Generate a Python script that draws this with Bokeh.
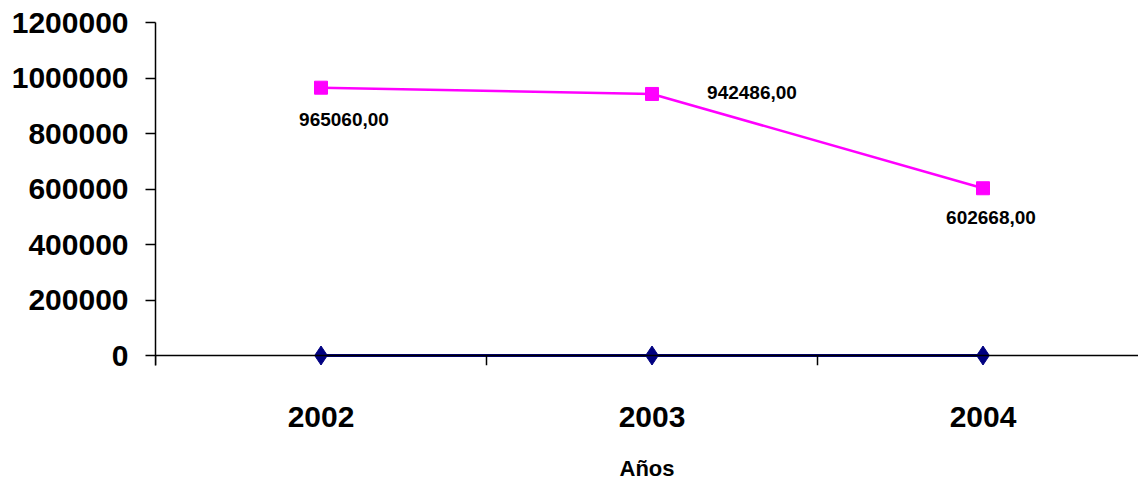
from bokeh.plotting import figure
from bokeh.models import (FixedTicker, PrintfTickFormatter, Range1d, ColumnDataSource,
                          LinearAxis)
from bokeh.core.properties import value
from bokeh.embed import file_html
from bokeh.resources import INLINE

years = [2002, 2003, 2004]
year_labels = ["2002", "2003", "2004"]
serie_a = [0, 0, 0]
serie_b = [965060.00, 942486.00, 602668.00]
serie_b_text = ["965060,00", "942486,00", "602668,00"]
y_ticks = [0, 200000, 400000, 600000, 800000, 1000000, 1200000]
x_title = "Años"

# label placement (screen-pixel offsets, style only)
lab_dx = [23, 100, 8]
lab_dy = [32, -1, 29]

FONT = "Liberation Sans"

# frame: 1200000 at 22px, 0 at 355px, frame bottom 10px below zero
y_pad = 1200000 * 10 / 333.0

p = figure(width=1138, height=487, output_backend="svg", toolbar_location=None,
           x_range=Range1d(2001.5, 2001.5 + 983 / 331.0),
           y_range=Range1d(-y_pad, 1200000),
           min_border_left=155, min_border_right=0, min_border_top=22,
           min_border_bottom=122, x_axis_type=None)
p.outline_line_color = None
p.xgrid.visible = False
p.ygrid.visible = False
p.background_fill_color = "white"
p.border_fill_color = "white"

# y axis
p.yaxis.ticker = FixedTicker(ticks=y_ticks)
p.yaxis.formatter = PrintfTickFormatter(format="%d")
p.yaxis.major_label_text_font = FONT
p.yaxis.major_label_text_font_style = "bold"
p.yaxis.major_label_text_font_size = "30px"
p.yaxis.major_label_text_color = "black"
p.yaxis.major_tick_out = 10
p.yaxis.major_tick_in = 0
p.yaxis.minor_tick_line_color = None
p.yaxis.axis_line_width = 1.5
p.yaxis.major_tick_line_width = 1.5
p.yaxis.major_label_standoff = 17

# x axis line + category boundary ticks, placed at y = 0
ax0 = LinearAxis(fixed_location=0,
                 ticker=FixedTicker(ticks=[], minor_ticks=[2001.5, 2002.5, 2003.5]),
                 major_tick_out=0, major_tick_in=0,
                 minor_tick_out=10, minor_tick_in=0, minor_tick_line_width=1.5,
                 axis_line_width=1.5, major_label_text_font_size="0px",
                 major_label_standoff=0)
p.add_layout(ax0, "below")

# x tick labels and title
ax1 = LinearAxis(ticker=FixedTicker(ticks=years),
                 major_label_overrides={y: l for y, l in zip(years, year_labels)},
                 axis_line_color=None, major_tick_line_color=None,
                 minor_tick_line_color=None, major_tick_out=0, major_tick_in=0,
                 minor_tick_out=0, minor_tick_in=0,
                 major_label_text_font=FONT, major_label_text_font_style="bold",
                 major_label_text_font_size="30px", major_label_text_color="black",
                 major_label_standoff=41,
                 axis_label=x_title, axis_label_text_font=FONT,
                 axis_label_text_font_style="bold", axis_label_text_font_size="22px",
                 axis_label_text_color="black", axis_label_standoff=26)
p.add_layout(ax1, "below")

# series
p.line(years, serie_b, line_color="#FF00FF", line_width=2.5)
p.scatter(years, serie_b, marker="square", size=13, fill_color="#FF00FF",
          line_color="#FF00FF")
p.line(years, serie_a, line_color="#000080", line_width=3)
p.scatter(years, serie_a, marker="diamond", size=19, fill_color="#000080",
          line_color="#000080")

src = ColumnDataSource(dict(x=years, y=serie_b, t=serie_b_text, dx=lab_dx, dy=lab_dy))
p.text(x="x", y="y", text="t", x_offset="dx", y_offset="dy", source=src,
       text_font=value(FONT), text_font_style="bold", text_font_size="19px",
       text_align="center", text_baseline="middle", text_color="black")

open("out.html", "w").write(file_html(p, INLINE))
